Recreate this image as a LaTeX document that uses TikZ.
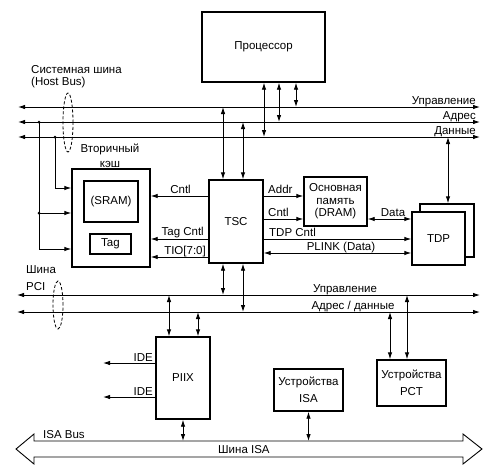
\documentclass[tikz,border=0pt]{standalone}
\usepackage{fontspec}
\setmainfont{Liberation Sans}
\usetikzlibrary{arrows.meta,shapes.geometric}
\begin{document}
\begin{tikzpicture}[x=1pt,y=-1pt,
  font=\fontsize{11.5}{13}\selectfont,
  blk/.style={draw, line width=1.4pt, fill=white, inner sep=1pt, align=center},
  ln/.style={line width=0.9pt},
  tip/.style={ln, -{Latex[length=7pt,width=4.5pt]}},
  dbl/.style={ln, {Latex[length=7pt,width=4.5pt]}-{Latex[length=7pt,width=4.5pt]}},
  lbl/.style={inner sep=0pt},
  jn/.style={circle, fill, inner sep=0pt, minimum size=3pt},
  oval/.style={draw, ellipse, line width=0.8pt, dash pattern=on 3pt off 2pt, inner sep=0pt}]
\useasboundingbox (0,0) rectangle (495,471);

% ---------- blocks ----------
\node[blk, minimum width=123pt, minimum height=70pt] (cpu) at (263.5,47) {Процессор};
\node[blk, minimum width=78pt, minimum height=98pt] (cache) at (111,218) {};
\node[blk, minimum width=54pt, minimum height=41pt] (sram) at (111,201.5) {(SRAM)};
\node[blk, minimum width=41pt, minimum height=20pt] (tag) at (110.5,244) {Tag};
\node[blk, minimum width=54pt, minimum height=83pt] (tsc) at (236,221.5) {TSC};
\node[blk, minimum width=63pt, minimum height=49pt, font=\fontsize{11.5}{12.5}\selectfont] (dram) at (335.5,201.5) {Основная\\память\\(DRAM)};
\node[blk, minimum width=54pt, minimum height=53pt] (tdpb) at (447,230.5) {};
\node[blk, minimum width=53pt, minimum height=53pt] (tdp) at (438.5,238.5) {TDP};
\node[blk, minimum width=54pt, minimum height=82pt] (piix) at (183,378) {PIIX};
\node[blk, minimum width=69pt, minimum height=42pt, font=\fontsize{11.5}{17}\selectfont] (isadev) at (308.5,390) {Устройства\\ISA};
\node[blk, minimum width=69pt, minimum height=46pt, font=\fontsize{11.5}{17}\selectfont] (pcidev) at (411.5,383) {Устройства\\PCT};

% ---------- host bus ----------
\coordinate (hcL) at (18,107); \coordinate (hcR) at (480,107);
\coordinate (haL) at (18,122); \coordinate (haR) at (480,122);
\coordinate (hdL) at (18,137); \coordinate (hdR) at (480,137);
\draw[dbl] (hcL) -- (hcR);
\draw[dbl] (haL) -- (haR);
\draw[dbl] (hdL) -- (hdR);
\node[lbl, anchor=base east] (lhc) at (476,104) {Управление};
\node[lbl, anchor=base east] (lha) at (476,119) {Адрес};
\node[lbl, anchor=base east] (lhd) at (476,134) {Данные};
\node[lbl, anchor=west, align=left, font=\fontsize{11.5}{12}\selectfont] (hbl) at (31,77) {Системная шина\\(Host Bus)};
\node[oval, minimum width=10pt, minimum height=59pt] (hbo) at (68,122.5) {};

% processor to host bus
\coordinate (pd) at (264,137); \coordinate (pa) at (279,122); \coordinate (pc) at (296,107);
\draw[dbl] (pd |- cpu.south) -- (pd);
\draw[dbl] (pa |- cpu.south) -- (pa);
\draw[dbl] (pc |- cpu.south) -- (pc);

% TSC to host bus
\coordinate (tc) at (223,107); \coordinate (ta) at (243,122);
\draw[dbl] (tc) -- (tc |- tsc.north);
\draw[dbl] (ta) -- (ta |- tsc.north);

% TDP to host data
\coordinate (dd) at (448,137);
\draw[dbl] (dd) -- (dd |- tdpb.north);

% cache to host bus (left)
\coordinate (la) at (39,122); \coordinate (lm) at (39,213); \coordinate (lb) at (39,249);
\coordinate (ld) at (55,137); \coordinate (ldb) at (55,188);
\draw[ln] (la) -- (lb);
\draw[tip] (lb) -- (cache.west |- lb);
\draw[tip] (lm) -- (cache.west |- lm);
\draw[ln] (ld) -- (ldb);
\draw[tip] (ldb) -- (cache.west |- ldb);
\node[jn] (j1) at (la) {};
\node[jn] (j2) at (lm) {};
\node[jn] (j3) at (ld) {};
\node[lbl, align=center, font=\fontsize{11.5}{15}\selectfont] (cl) at (110,155.5) {Вторичный\\кэш};

% TSC to cache
\draw[tip] (tsc.west |- 0,196) -- (cache.east |- 0,196);
\node[lbl, anchor=base east] (lcn) at (191,193) {Cntl};
\draw[tip] (tsc.west |- 0,239) -- (cache.east |- 0,239);
\node[lbl, anchor=base east] (ltc) at (204,235) {Tag Cntl};
\draw[tip] (tsc.west |- 0,257) -- (cache.east |- 0,257);
\node[lbl, anchor=base east] (ltio) at (206,254) {TIO[7:0]};

% TSC to DRAM / TDP
\draw[tip] (tsc.east |- 0,196) -- (dram.west |- 0,196);
\node[lbl, anchor=base west] (lad) at (268,193) {Addr};
\draw[tip] (tsc.east |- 0,219) -- (dram.west |- 0,219);
\node[lbl, anchor=base west] (lcn2) at (268,216) {Cntl};
\draw[dbl] (dram.east |- 0,219) -- (tdp.west |- 0,219);
\node[lbl, anchor=base] (ldata) at (393,216) {Data};
\draw[tip] (tsc.east |- 0,239) -- (tdp.west |- 0,239);
\node[lbl, anchor=base west] (ltdp) at (269,236) {TDP Cntl};
\draw[dbl] (tsc.east |- 0,253) -- (tdp.west |- 0,253);
\node[lbl, anchor=base] (lpl) at (341,250) {PLINK (Data)};

% ---------- PCI bus ----------
\coordinate (pcL) at (17,295); \coordinate (pcR) at (480,295);
\coordinate (paL) at (17,312); \coordinate (paR) at (480,312);
\draw[dbl] (pcL) -- (pcR);
\draw[dbl] (paL) -- (paR);
\node[lbl, anchor=base] (lpc) at (345,292) {Управление};
\node[lbl, anchor=base] (lpa) at (353,309) {Адрес / данные};
\node[lbl, anchor=west, align=left, font=\fontsize{11.5}{17}\selectfont] (pcil) at (26,278.5) {Шина\\PCI};
\node[oval, minimum width=10pt, minimum height=48pt] (pco) at (58,305) {};

% TSC to PCI
\coordinate (tb1) at (223,295); \coordinate (tb2) at (243,312);
\draw[dbl] (tb1 |- tsc.south) -- (tb1);
\draw[dbl] (tb2 |- tsc.south) -- (tb2);

% PIIX to PCI
\coordinate (q1) at (169,295); \coordinate (q2) at (198,312);
\draw[dbl] (q1) -- (q1 |- piix.north);
\draw[dbl] (q2) -- (q2 |- piix.north);

% IDE
\coordinate (ide1) at (103,363); \coordinate (ide2) at (103,397);
\draw[tip] (piix.west |- ide1) -- (ide1);
\draw[tip] (piix.west |- ide2) -- (ide2);
\node[lbl, anchor=base east] (lide1) at (153,361) {IDE};
\node[lbl, anchor=base east] (lide2) at (153,395) {IDE};

% PCI devices
\coordinate (r1) at (390,312); \coordinate (r2) at (407,295);
\draw[dbl] (r1) -- (r1 |- pcidev.north);
\draw[dbl] (r2) -- (r2 |- pcidev.north);

% ---------- ISA bus ----------
\draw[ln, fill=white] (16,449) -- (34,434) -- (34,441) -- (463,441) -- (463,434) -- (482,449)
  -- (463,464) -- (463,457) -- (34,457) -- (34,464) -- cycle;
\coordinate (isaT) at (0,441);
\draw[dbl] (piix.south) -- (piix.south |- isaT);
\draw[dbl] (isadev.south) -- (isadev.south |- isaT);
\node[lbl, anchor=base west] (lisa1) at (43,438) {ISA Bus};
\node[lbl, anchor=base west] (lisa2) at (218,453) {Шина ISA};
\end{tikzpicture}
\end{document}
